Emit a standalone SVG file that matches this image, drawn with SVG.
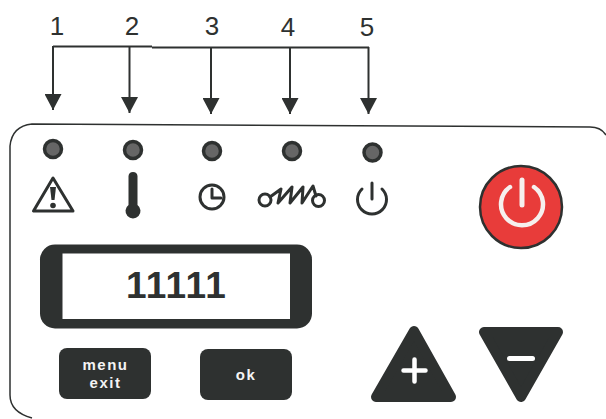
<svg xmlns="http://www.w3.org/2000/svg" width="606" height="419" viewBox="0 0 606 419">
<style>
.lab{font:26px "Liberation Sans",Arial,sans-serif;fill:#2e3130;text-anchor:middle}
.btn{font:bold 15px "Liberation Sans",Arial,sans-serif;fill:#f4f4f4;text-anchor:middle;letter-spacing:1.5px}
.led{fill:#666;stroke:#2e3130;stroke-width:3.5}
.ic{fill:none;stroke:#2e3130;stroke-width:3;stroke-linecap:round;stroke-linejoin:round}
.dk{fill:#2e3130}
.cn{fill:none;stroke:#2e3130;stroke-width:2}
</style>
<defs>
<marker id="ah" markerUnits="userSpaceOnUse" markerWidth="16" markerHeight="17" refX="16" refY="8.5" orient="auto" viewBox="0 0 16 17"><path d="M0 0L16 8.500L0 17Z" fill="#2e3130"/></marker>
</defs>
<rect width="606" height="419" fill="#fff"/>
<g id="panel"><path d="M606 135Q601 127 590 127L32 124Q12 126 10 146V395Q10 412 32 418" fill="none" stroke="#2e3130" stroke-width="1.500"/></g>
<g id="labels">
<text class="lab" x="57" y="35">1</text><text class="lab" x="132" y="35">2</text><text class="lab" x="212" y="35">3</text><text class="lab" x="288" y="36">4</text><text class="lab" x="367" y="36">5</text>
</g>
<g id="connectors">
<path class="cn" d="M53 46.500H152M152 47.500H369"/>
<path class="cn" d="M53 46V110" marker-end="url(#ah)"/>
<path class="cn" d="M129.500 47V113" marker-end="url(#ah)"/>
<path class="cn" d="M211 47V114" marker-end="url(#ah)"/>
<path class="cn" d="M290 47V114" marker-end="url(#ah)"/>
<path class="cn" d="M368.500 47V114" marker-end="url(#ah)"/>
</g>
<g id="led1"><circle class="led" cx="53" cy="149" r="8.500"/></g>
<g id="led2"><circle class="led" cx="133" cy="150" r="8.500"/></g>
<g id="led3"><circle class="led" cx="212" cy="151" r="8.500"/></g>
<g id="led4"><circle class="led" cx="292" cy="151" r="8.500"/></g>
<g id="led5"><circle class="led" cx="372.500" cy="152.500" r="8.500"/></g>
<g id="icon-alarm"><path class="ic" d="M53 178L33.500 211H73Z"/><path d="M50 187H56L54.500 200H51.500Z" class="dk"/><circle class="dk" cx="53" cy="205.500" r="2.800"/></g>
<g id="icon-temp"><path class="dk" d="M128.500 176Q129 172 133 172Q137 172 137.500 176V205A7.500 7.500 0 1 1 128.500 205Z"/></g>
<g id="icon-clock"><circle class="ic" cx="212" cy="197" r="12"/><path class="ic" d="M212 189V198H221"/></g>
<g id="icon-heater"><circle class="ic" cx="265" cy="200" r="6"/><path class="ic" d="M270 197L281 189L278 203L292 187L290 203L303 187L302 203L313 186L316 196"/><circle class="ic" cx="318.500" cy="200.500" r="6"/></g>
<g id="icon-power"><path class="ic" d="M362 189A14.500 14.500 0 1 0 382 189"/><path class="ic" d="M372 183V199"/></g>
<g id="power-button"><circle cx="521" cy="207" r="41" fill="#e83c3a" stroke="#2e3130" stroke-width="2.500"/><path d="M510 187A21 21 0 1 0 534 187" fill="none" stroke="#f6f0ee" stroke-width="4.500" stroke-linecap="round"/><path d="M522 180V205" stroke="#f6f0ee" stroke-width="5" stroke-linecap="round"/></g>
<g id="display"><rect x="40" y="244.500" width="272" height="84" rx="15" class="dk"/><rect x="62.500" y="253.500" width="227.500" height="65.500" fill="#fff"/><text x="175.500" y="298" text-anchor="middle" style="font:bold 37px 'Liberation Sans',Arial,sans-serif;fill:#2e3130;font-kerning:none;letter-spacing:-0.8px">11111</text></g>
<g id="menu-button"><rect x="59" y="348" width="92" height="51" rx="8" class="dk"/><text class="btn" x="105.500" y="370">menu</text><text class="btn" x="105.500" y="388">exit</text></g>
<g id="ok-button"><rect x="200" y="349" width="92" height="51" rx="8" class="dk"/><text class="btn" x="246" y="380">ok</text></g>
<g id="plus-button"><path class="dk" stroke="#2e3130" stroke-width="10" stroke-linejoin="round" d="M414 331L376 397H451Z"/><path d="M414.500 359.500V381.500M403.500 370.500H425.500" stroke="#fff" stroke-width="4.500" stroke-linecap="round"/></g>
<g id="minus-button"><path class="dk" stroke="#2e3130" stroke-width="10" stroke-linejoin="round" d="M484 332H558L521 397Z"/><path d="M509.500 358.500H532.500" stroke="#fff" stroke-width="5" stroke-linecap="round"/></g>
</svg>
